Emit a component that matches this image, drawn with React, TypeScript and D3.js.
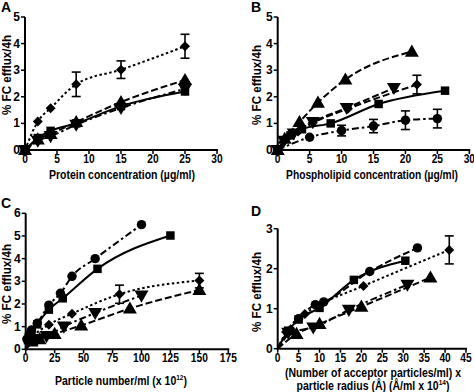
import React, { useLayoutEffect, useRef, useState } from "react";
import * as d3 from "d3";

// ---------- DATA ----------
// Panel A: protein concentration (µg/ml)
const aX = [0, 2, 4, 8, 15, 25];
const aSquare = [0, 0.45, 0.72, 1.0, 1.65, 2.2];
const aTriangle = [0, 0.4, 0.6, 1.05, 1.8, 2.63];
const aInvTriangle = [0, 0.35, 0.52, 0.95, 1.58, 2.3];
const aDiamond = [0, 1.07, 1.57, 2.47, 3.02, 3.9];
const aDiamondErr = [0, 0, 0, 0.46, 0.33, 0.45];

// Panel B: phospholipid concentration (µg/ml)
const bTriX = [0, 1.1, 3.4, 6.3, 10.6, 21];
const bTriY = [0, 0.42, 1.05, 1.78, 2.65, 3.7];
const bInvX = [0, 1, 2.5, 5.5, 10.8, 18.2];
const bInvY = [0, 0.35, 0.62, 1.05, 1.58, 2.33];
const bDiaX = [0, 1.5, 3.2, 5.5, 11, 21.8];
const bDiaY = [0, 0.45, 0.7, 1.02, 1.55, 2.46];
const bDiaErr = [0, 0, 0, 0, 0, 0.35];
const bSqX = [0, 2, 3.8, 8.3, 15.8, 26.2];
const bSqY = [0, 0.55, 0.78, 1.0, 1.73, 2.23];
const bCirX = [0, 5, 10, 15, 20, 25];
const bCirY = [0, 0.48, 0.73, 0.9, 1.12, 1.18];
const bCirErr = [0, 0, 0.2, 0.25, 0.35, 0.35];

// Panel C: particle number/ml (x 10^12)
const cCirX = [1, 3, 5, 10, 20, 30, 40, 60, 100];
const cCirY = [0.45, 0.65, 0.85, 1.15, 1.95, 2.47, 3.22, 4.0, 5.5];
const cSqX = [2, 5, 10, 20, 32, 62, 125];
const cSqY = [0.4, 0.7, 1.1, 1.75, 2.25, 3.55, 5.02];
const cDiaX = [5, 20, 40, 81, 150];
const cDiaY = [0.45, 1.08, 1.57, 2.43, 3.03];
const cDiaErr = [0, 0, 0, 0.4, 0.32];
const cInvX = [10, 18, 33, 60, 100];
const cInvY = [0.45, 0.58, 1.0, 1.6, 2.37];
const cTriX = [5, 12, 25, 48, 90, 150];
const cTriY = [0.35, 0.45, 0.68, 1.05, 1.8, 2.62];

// Panel D: (particles/ml) x radius (Å/ml x 10^14)
const dCirX = [3, 5, 9, 11, 22, 33.4];
const dCirY = [0.45, 0.75, 1.1, 1.17, 1.93, 2.52];
const dSqX = [2.5, 5, 10, 18.2, 30.5];
const dSqY = [0.45, 0.73, 1.02, 1.72, 2.2];
const dDiaX = [2, 6.5, 10.5, 20.5, 41];
const dDiaY = [0.42, 0.87, 1.12, 1.57, 2.47];
const dDiaErr = [0, 0, 0, 0, 0.35];
const dTriX = [4.5, 10, 20, 36.5];
const dTriY = [0.37, 0.62, 1.05, 1.78];
const dInvX = [2.5, 8.5, 17, 31];
const dInvY = [0.4, 0.53, 0.97, 1.6];

// Tick labels
const ticksA_X = [0, 5, 10, 15, 20, 25, 30];
const ticksA_Y = [0, 1, 2, 3, 4, 5];
const ticksC_X = [0, 25, 50, 75, 100, 125, 150, 175];
const ticksC_Y = [0, 1, 2, 3, 4, 5, 6];
const ticksD_X = [0, 5, 10, 15, 20, 25, 30, 35, 40, 45];
const ticksD_Y = [0, 1, 2, 3];

// ---------- STYLES ----------
const FONT = "'Liberation Sans', Arial, Helvetica, sans-serif";
const DASH: Record<string, string> = {
  solid: "none",
  dashed: "7,3",
  dotted: "2.5,2.5",
  dashdot: "7,3,2.5,3",
};

type Series = {
  x: number[];
  y: number[];
  err?: number[];
  shape: "square" | "triangle" | "inv" | "diamond" | "circle";
  line: keyof typeof DASH;
  fromOrigin?: boolean;
};

// A title line: main text, optional superscript, optional tail
type TitleLine = { text: string; sup?: string; tail?: string; y: number; w: number };

type PanelDef = {
  letter: string;
  letterPos: [number, number];
  x0: number; x1: number; y0: number; y1: number;
  xDomain: [number, number]; yDomain: [number, number];
  xTicks: number[]; yTicks: number[];
  xTitleX: number;
  xTitle: TitleLine[];
  yTitleX: number; yTitleY: number;
  series: Series[];
};

const zip = (xs: number[], ys: number[]) => xs.map((x, i) => [x, ys[i]] as [number, number]);

const panels: PanelDef[] = [
  {
    letter: "A", letterPos: [1, 12],
    x0: 25, x1: 217, y0: 150, y1: 17,
    xDomain: [0, 30], yDomain: [0, 5],
    xTicks: ticksA_X, yTicks: ticksA_Y,
    xTitleX: 122,
    xTitle: [{ text: "Protein concentration (µg/ml)", y: 179, w: 146 }],
    yTitleX: 11, yTitleY: 75,
    series: [
      { x: aX, y: aSquare, shape: "square", line: "solid" },
      { x: aX, y: aInvTriangle, shape: "inv", line: "dashdot" },
      { x: aX, y: aTriangle, shape: "triangle", line: "dashed" },
      { x: aX, y: aDiamond, err: aDiamondErr, shape: "diamond", line: "dotted" },
    ],
  },
  {
    letter: "B", letterPos: [251, 12],
    x0: 277.7, x1: 469.3, y0: 150, y1: 17,
    xDomain: [0, 30], yDomain: [0, 5],
    xTicks: ticksA_X, yTicks: ticksA_Y,
    xTitleX: 372,
    xTitle: [{ text: "Phospholipid concentration (µg/ml)", y: 179, w: 172 }],
    yTitleX: 261, yTitleY: 85,
    series: [
      { x: bCirX, y: bCirY, err: bCirErr, shape: "circle", line: "dashdot" },
      { x: bSqX, y: bSqY, shape: "square", line: "solid" },
      { x: bInvX, y: bInvY, shape: "inv", line: "dashed" },
      { x: bDiaX, y: bDiaY, err: bDiaErr, shape: "diamond", line: "dashed" },
      { x: bTriX, y: bTriY, shape: "triangle", line: "dashed" },
    ],
  },
  {
    letter: "C", letterPos: [1, 208],
    x0: 25.7, x1: 228.3, y0: 349.3, y1: 213.3,
    xDomain: [0, 175], yDomain: [0, 6],
    xTicks: ticksC_X, yTicks: ticksC_Y,
    xTitleX: 121,
    xTitle: [{ text: "Particle number/ml (x 10", sup: "12", tail: ")", y: 385, w: 132 }],
    yTitleX: 11, yTitleY: 284,
    series: [
      { x: cTriX, y: cTriY, shape: "triangle", line: "dashed", fromOrigin: true },
      { x: cInvX, y: cInvY, shape: "inv", line: "dashdot", fromOrigin: true },
      { x: cDiaX, y: cDiaY, err: cDiaErr, shape: "diamond", line: "dotted", fromOrigin: true },
      { x: cSqX, y: cSqY, shape: "square", line: "solid", fromOrigin: true },
      { x: cCirX, y: cCirY, shape: "circle", line: "dashdot", fromOrigin: true },
    ],
  },
  {
    letter: "D", letterPos: [251, 216],
    x0: 277.7, x1: 466, y0: 348.7, y1: 228.7,
    xDomain: [0, 45], yDomain: [0, 3],
    xTicks: ticksD_X, yTicks: ticksD_Y,
    xTitleX: 373,
    xTitle: [
      { text: "(Number of acceptor particles/ml) x", y: 377, w: 176 },
      { text: "particle radius (Å) (Å/ml x 10", sup: "14", tail: ")", y: 390, w: 153 },
    ],
    yTitleX: 261, yTitleY: 292,
    series: [
      { x: dTriX, y: dTriY, shape: "triangle", line: "dashed", fromOrigin: true },
      { x: dInvX, y: dInvY, shape: "inv", line: "dashdot", fromOrigin: true },
      { x: dDiaX, y: dDiaY, err: dDiaErr, shape: "diamond", line: "dotted", fromOrigin: true },
      { x: dSqX, y: dSqY, shape: "square", line: "solid", fromOrigin: true },
      { x: dCirX, y: dCirY, shape: "circle", line: "dashed", fromOrigin: true },
    ],
  },
];

function symbolPath(shape: Series["shape"]) {
  switch (shape) {
    case "square": return d3.symbol(d3.symbolSquare, 72)()!;
    case "triangle": return d3.symbol(d3.symbolTriangle, 85)()!;
    case "inv": return d3.symbol(d3.symbolTriangle, 85)()!;
    case "diamond": return d3.symbol(d3.symbolSquare, 50)()!;
    case "circle": return d3.symbol(d3.symbolCircle, 70)()!;
  }
}

function Marker({ shape, cx, cy }: { shape: Series["shape"]; cx: number; cy: number }) {
  const rot = shape === "inv" ? 180 : shape === "diamond" ? 45 : 0;
  const dy = shape === "triangle" ? 1 : shape === "inv" ? -1 : 0;
  return <path d={symbolPath(shape)} transform={`translate(${cx},${cy + dy}) rotate(${rot})`} fill="#000" />;
}

// Text fitted to a target width by a horizontal scale (measured after mount)
function FitText({ cx, y, w, size, line, rotate }: {
  cx: number; y: number; w: number; size: number; line: TitleLine; rotate?: boolean;
}) {
  const ref = useRef<SVGTextElement>(null);
  const [sx, setSx] = useState(0.82);
  useLayoutEffect(() => {
    if (ref.current) {
      const nat = ref.current.getComputedTextLength();
      if (nat > 0) setSx(w / nat);
    }
  }, [w, line.text]);
  const t = rotate
    ? `translate(${cx},${y}) rotate(-90) scale(${sx},1)`
    : `translate(${cx},${y}) scale(${sx},1)`;
  return (
    <text ref={ref} transform={t} x={0} y={0} textAnchor="middle" fontFamily={FONT} fontWeight="bold" fontSize={size}>
      {line.text}
      {line.sup ? <tspan fontSize={size * 0.62} dy={-5}>{line.sup}</tspan> : null}
      {line.tail ? <tspan dy={5}>{line.tail}</tspan> : null}
    </text>
  );
}

function Panel({ p }: { p: PanelDef }) {
  const x = d3.scaleLinear().domain(p.xDomain).range([p.x0, p.x1]);
  const y = d3.scaleLinear().domain(p.yDomain).range([p.y0, p.y1]);
  const line = d3.line<[number, number]>().x(d => x(d[0])).y(d => y(d[1])).curve(d3.curveMonotoneX);
  return (
    <g>
      <text x={p.letterPos[0]} y={p.letterPos[1]} fontFamily={FONT} fontWeight="bold" fontSize={14}>{p.letter}</text>
      {/* series lines */}
      {p.series.map((s, i) => {
        const pts = zip(s.x, s.y);
        const lp = s.fromOrigin ? [[0, 0] as [number, number], ...pts] : pts;
        return (
          <path key={"l" + i} d={line(lp)!} fill="none" stroke="#000" strokeWidth={2}
            strokeDasharray={DASH[s.line]} />
        );
      })}
      {/* error bars */}
      {p.series.map((s, i) => s.err ? s.err.map((e, j) => e > 0 ? (
        <g key={"e" + i + "_" + j} stroke="#000" strokeWidth={1.6}>
          <line x1={x(s.x[j])} x2={x(s.x[j])} y1={y(s.y[j] - e)} y2={y(s.y[j] + e)} />
          <line x1={x(s.x[j]) - 4.5} x2={x(s.x[j]) + 4.5} y1={y(s.y[j] + e)} y2={y(s.y[j] + e)} />
          <line x1={x(s.x[j]) - 4.5} x2={x(s.x[j]) + 4.5} y1={y(s.y[j] - e)} y2={y(s.y[j] - e)} />
        </g>
      ) : null) : null)}
      {/* markers */}
      {p.series.map((s, i) => s.x.map((xv, j) => (
        <Marker key={"m" + i + "_" + j} shape={s.shape} cx={x(xv)} cy={y(s.y[j])} />
      )))}
      {/* axes */}
      <line x1={p.x0} x2={p.x1 + 1} y1={p.y0} y2={p.y0} stroke="#000" strokeWidth={2} />
      <line x1={p.x0} x2={p.x0} y1={p.y0 + 1} y2={p.y1} stroke="#000" strokeWidth={2} />
      {p.xTicks.map(t => (
        <g key={"xt" + t}>
          <line x1={x(t)} x2={x(t)} y1={p.y0} y2={p.y0 + 4} stroke="#000" strokeWidth={1.5} />
          <text transform={`translate(${x(t)},${p.y0 + 13}) scale(0.85,1)`} textAnchor="middle"
            fontFamily={FONT} fontWeight="bold" fontSize={12}>{t}</text>
        </g>
      ))}
      {p.yTicks.map(t => (
        <g key={"yt" + t}>
          <line x1={p.x0 - 4} x2={p.x0} y1={y(t)} y2={y(t)} stroke="#000" strokeWidth={1.5} />
          <text x={p.x0 - 5} y={y(t) + 4} textAnchor="end" fontFamily={FONT} fontWeight="bold" fontSize={12}>{t}</text>
        </g>
      ))}
      {/* y title */}
      <FitText cx={p.yTitleX} y={p.yTitleY} w={80} size={13} rotate line={{ text: "% FC efflux/4h", y: 0, w: 80 }} />
      {/* x title */}
      {p.xTitle.map((tl, i) => (
        <FitText key={"xl" + i} cx={p.xTitleX} y={tl.y} w={tl.w} size={i === 0 && p.xTitle.length === 1 ? 12.5 : 12} line={tl} />
      ))}
    </g>
  );
}

export default function App() {
  return (
    <div style={{ position: "absolute", left: 0, top: 0 }}>
      <svg width={474} height={392} style={{ display: "block", background: "#fff" }}>
        <rect width={474} height={392} fill="#fff" />
        {panels.map(p => <Panel key={p.letter} p={p} />)}
      </svg>
    </div>
  );
}
